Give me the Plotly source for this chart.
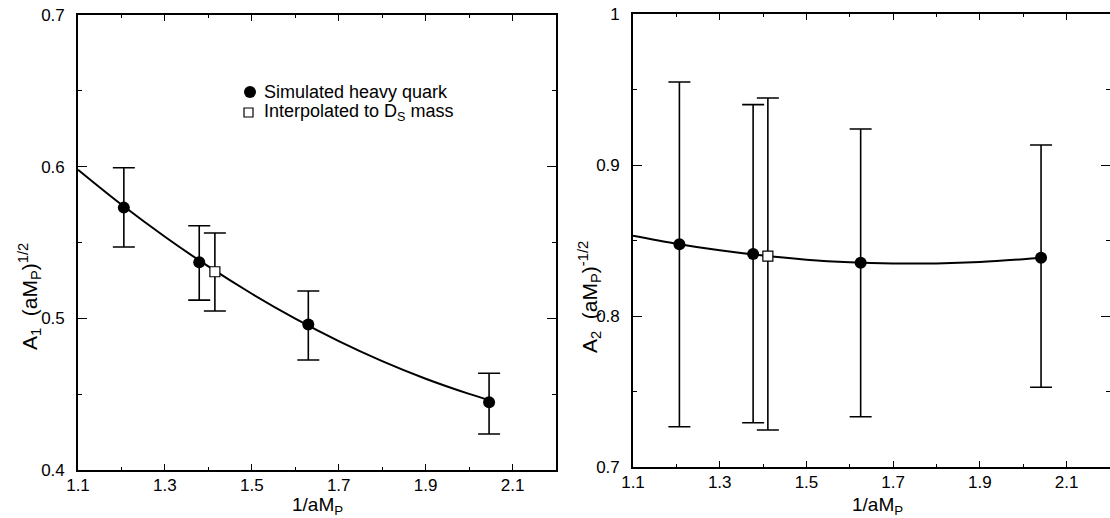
import plotly.graph_objects as go
from plotly.subplots import make_subplots

# ---------------- data ----------------
# Left panel: A1 (aM_P)^{1/2}
xL_sim = [1.2055, 1.379, 1.630, 2.046]
yL_sim = [0.573, 0.537, 0.496, 0.4446]
yL_sim_hi = [0.5993, 0.561, 0.518, 0.4638]
yL_sim_lo = [0.547, 0.512, 0.4725, 0.4237]

xL_int = [1.415]
yL_int = [0.5307]
yL_int_hi = [0.5563]
yL_int_lo = [0.5048]

xL_fit = [1.1, 1.2, 1.3, 1.4, 1.5, 1.6, 1.7, 1.8, 1.9, 2.0, 2.046]
yL_fit = [0.598, 0.575, 0.5538, 0.5342, 0.5162, 0.4998, 0.485, 0.4718, 0.4602, 0.4502, 0.4461]

# Right panel: A2 (aM_P)^{-1/2}
xR_sim = [1.207, 1.377, 1.625, 2.041]
yR_sim = [0.8475, 0.841, 0.8353, 0.8386]
yR_sim_hi = [0.955, 0.940, 0.9238, 0.9132]
yR_sim_lo = [0.7267, 0.7293, 0.7333, 0.7528]

xR_int = [1.411]
yR_int = [0.8397]
yR_int_hi = [0.9444]
yR_int_lo = [0.7245]

xR_fit = [1.1, 1.2, 1.3, 1.4, 1.5, 1.6, 1.7, 1.8, 1.9, 2.0, 2.041]
yR_fit = [0.8532, 0.8479, 0.8435, 0.8400, 0.8373, 0.8356, 0.8348, 0.8348, 0.8357, 0.8376, 0.8386]

xticks = [1.1, 1.3, 1.5, 1.7, 1.9, 2.1]
xtick_text = ["1.1", "1.3", "1.5", "1.7", "1.9", "2.1"]
yL_ticks = [0.4, 0.5, 0.6, 0.7]
yR_ticks = [0.7, 0.8, 0.9, 1.0]
yR_tick_text = ["0.7", "0.8", "0.9", "1"]

legend_labels = ["Simulated heavy quark", "Interpolated to D<sub>S</sub> mass"]
x_title = "1/aM<sub>P</sub>"
yL_title = "A<sub>1</sub>\u00a0\u00a0(aM<sub>P</sub>)<sup>1/2</sup>"
yR_title = "A<sub>2</sub>\u00a0\u00a0(aM<sub>P</sub>)<sup>-1/2</sup>"

# ---------------- figure ----------------
FONT = "Liberation Sans, Arial, sans-serif"
W, H = 1110, 518
fig = make_subplots(rows=1, cols=2)


def err(y, hi, lo):
    return dict(type="data", symmetric=False,
                array=[h - v for h, v in zip(hi, y)],
                arrayminus=[v - l for v, l in zip(y, lo)],
                color="black", thickness=1.6, width=11)


for col, (xf, yf, xs, ys, hs, ls, xi, yi, hi, li) in enumerate([
    (xL_fit, yL_fit, xL_sim, yL_sim, yL_sim_hi, yL_sim_lo, xL_int, yL_int, yL_int_hi, yL_int_lo),
    (xR_fit, yR_fit, xR_sim, yR_sim, yR_sim_hi, yR_sim_lo, xR_int, yR_int, yR_int_hi, yR_int_lo),
], start=1):
    fig.add_trace(go.Scatter(x=xf, y=yf, mode="lines", line=dict(color="black", width=2, shape="spline"),
                             showlegend=False, hoverinfo="skip"), row=1, col=col)
    fig.add_trace(go.Scatter(x=xs, y=ys, mode="markers", error_y=err(ys, hs, ls),
                             marker=dict(symbol="circle", size=12, color="black"),
                             name=legend_labels[0], showlegend=False), row=1, col=col)
    fig.add_trace(go.Scatter(x=xi, y=yi, mode="markers", error_y=err(yi, hi, li),
                             marker=dict(symbol="square", size=10, color="white",
                                         line=dict(color="black", width=1.2)),
                             name=legend_labels[1], showlegend=False), row=1, col=col)

axis_common = dict(showline=True, linecolor="black", linewidth=1.6, mirror="ticks",
                   tickwidth=1.2, tickcolor="black", automargin=False,
                   showgrid=False, zeroline=False,
                   tickfont=dict(family=FONT, size=17, color="black"))

fig.update_xaxes(**axis_common, range=[1.1, 2.2], tickvals=xticks, ticktext=xtick_text,
                 ticks="inside", ticklen=6, ticklabelstandoff=-1,
                 minor=dict(dtick=0.1, tick0=1.1, ticks="inside", ticklen=3, tickcolor="black"))
fig.update_xaxes(domain=[78 / W, 556 / W], row=1, col=1)
fig.update_xaxes(domain=[633 / W, 1.0], row=1, col=2)

fig.update_yaxes(**axis_common, ticks="inside", ticklen=9, ticklabelstandoff=8,
                 minor=dict(dtick=0.05, ticks="inside", ticklen=4, tickcolor="black"))
fig.update_yaxes(range=[0.4, 0.7], tickvals=yL_ticks, domain=[48 / H, 503 / H], row=1, col=1)
fig.update_yaxes(range=[0.7, 1.0], tickvals=yR_ticks, ticktext=yR_tick_text,
                 domain=[51 / H, 504 / H], row=1, col=2)

# axis titles
title_font = dict(family=FONT, size=19, color="black")
for cx in (317, 877):
    fig.add_annotation(x=cx / W, y=1 - 506 / H, xref="paper", yref="paper", text=x_title,
                       showarrow=False, xanchor="center", yanchor="middle", font=title_font)
for cx, txt in ((29, yL_title), (589, yR_title)):
    fig.add_annotation(x=cx / W, y=1 - 297 / H, xref="paper", yref="paper", text=txt,
                       showarrow=False, textangle=-90, xanchor="center", yanchor="middle",
                       font=dict(family=FONT, size=21, color="black"))

# key (legend) drawn as a small block of text with symbols
key_x = 262 / W
key_rows = [1 - 92 / H, 1 - 112 / H]
for lab, yy in zip(legend_labels, key_rows):
    fig.add_annotation(x=key_x, y=yy, xref="paper", yref="paper", text=lab, showarrow=False,
                       xanchor="left", yanchor="middle",
                       font=dict(family=FONT, size=18, color="black"))
fig.add_shape(type="circle", xref="paper", yref="paper",
              x0=244 / W, x1=256 / W, y0=1 - 98 / H, y1=1 - 86 / H,
              fillcolor="black", line=dict(color="black", width=0))
fig.add_shape(type="rect", xref="paper", yref="paper",
              x0=244 / W, x1=253 / W, y0=1 - 117 / H, y1=1 - 108 / H,
              fillcolor="white", line=dict(color="black", width=1.2))

fig.update_layout(
    width=W, height=H,
    margin=dict(l=0, r=0, t=0, b=0),
    paper_bgcolor="white", plot_bgcolor="white",
    font=dict(family=FONT, color="black"),
    showlegend=False,
)

fig.write_html("out.html")
